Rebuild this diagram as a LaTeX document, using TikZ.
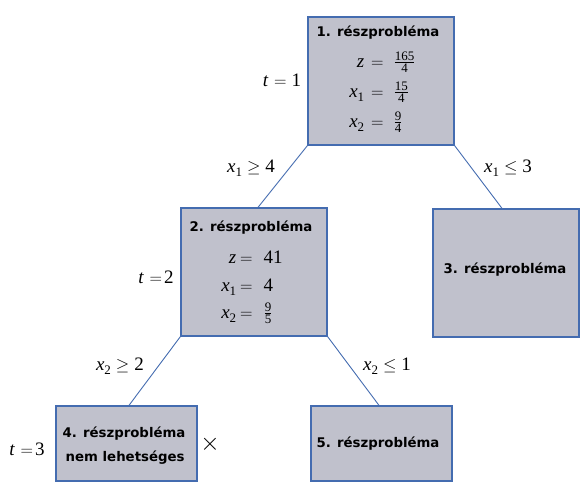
\documentclass[tikz,border=0pt]{standalone}
\usepackage{fontspec}
\newfontfamily\hdr{DejaVu Sans}
\newfontfamily\tms{Liberation Serif}
\newcommand\vv[1]{{\tms\itshape #1}}
\newcommand\sbs[1]{\raisebox{-4.5pt}{\fontsize{13}{13}\tms #1}}
\newcommand\fr[2]{\ensuremath{\frac{\hbox{\fontsize{13}{13}\tms #1}}{\hbox{\fontsize{13}{13}\tms #2}}}}
\definecolor{boxfill}{RGB}{192,193,204}
\definecolor{boxline}{RGB}{68,108,176}
\begin{document}
\begin{tikzpicture}[x=1pt,y=-1pt,
  prob/.style={draw=boxline,line width=1.3pt,fill=boxfill,rectangle,inner sep=0pt},
  conn/.style={draw=boxline,line width=0.9pt},
  hd/.style={font=\fontsize{13.3}{16}\hdr\bfseries,inner sep=0pt,align=center},
  mt/.style={font=\fontsize{19}{20}\tms,inner sep=0pt,anchor=base west},
  lb/.style={font=\fontsize{19}{20}\tms,inner sep=0pt}]
\useasboundingbox (0,0) rectangle (588,490);
% boxes
\node[prob,minimum width=146pt,minimum height=128pt] (b1) at (381,81) {};
\node[prob,minimum width=146pt,minimum height=128pt] (b2) at (254,272) {};
\node[prob,minimum width=146pt,minimum height=128pt] (b3) at (506,273) {};
\node[prob,minimum width=141pt,minimum height=75pt] (b4) at (126.5,443.5) {};
\node[prob,minimum width=141pt,minimum height=75pt] (b5) at (381.5,443.5) {};
% connectors
\draw[conn] (b1.south west) -- ([xshift=4pt]b2.north);
\draw[conn] (b1.south east) -- ([xshift=-4pt]b3.north);
\draw[conn] (b2.south west) -- ([xshift=2.5pt]b4.north);
\draw[conn] (b2.south east) -- ([xshift=-2.5pt]b5.north);
% box 1
\node[hd] (h1) at (378,33) {1. részprobléma};
\node[mt] (r11) at (334,67) {\makebox[30pt][r]{\vv{z}}\hspace{7pt}$=$\hspace{10pt}\fr{165}{4}};
\node[mt] (r12) at (334,97) {\makebox[30pt][r]{\vv{x}\sbs{1}}\hspace{7pt}$=$\hspace{10pt}\fr{15}{4}};
\node[mt] (r13) at (334,127) {\makebox[30pt][r]{\vv{x}\sbs{2}}\hspace{7pt}$=$\hspace{10pt}\fr{9}{4}};
\node[lb] (t1) at (282,80) {\vv{t}\hspace{6pt}$=$\hspace{5pt}1};
% box 2
\node[hd] (h2) at (251,228) {2. részprobléma};
\node[mt] (r21) at (206,263) {\makebox[30pt][r]{\vv{z}}\hspace{4pt}$=$\hspace{11pt}41};
\node[mt] (r22) at (206,291) {\makebox[30pt][r]{\vv{x}\sbs{1}}\hspace{4pt}$=$\hspace{11pt}4};
\node[mt] (r23) at (206,318) {\makebox[30pt][r]{\vv{x}\sbs{2}}\hspace{4pt}$=$\hspace{11pt}\fr{9}{5}};
\node[lb] (t2) at (156,277) {\vv{t}\hspace{6pt}$=$\hspace{2pt}2};
% box 3
\node[hd] (h3) at (505,270) {3. részprobléma};
% box 4
\node[hd] (h4) at (124,446) {4. részprobléma\\[8pt]\,nem lehetséges};
\node[lb,font=\fontsize{24}{26}\selectfont] (cross) at (210,444) {$\times$};
\node[lb] (t3) at (27,449) {\vv{t}\hspace{6pt}$=$\hspace{2pt}3};
% box 5
\node[hd] (h5) at (378,444) {5. részprobléma};
% edge labels
\node[lb] (e1) at (251,168) {\vv{x}\sbs{1}\hspace{5pt}$\geq$\hspace{5pt}4};
\node[lb] (e2) at (508,168) {\vv{x}\sbs{1}\hspace{5pt}$\leq$\hspace{5pt}3};
\node[lb] (e3) at (120,366) {\vv{x}\sbs{2}\hspace{5pt}$\geq$\hspace{5pt}2};
\node[lb] (e4) at (387,366) {\vv{x}\sbs{2}\hspace{5pt}$\leq$\hspace{5pt}1};
\end{tikzpicture}
\end{document}
